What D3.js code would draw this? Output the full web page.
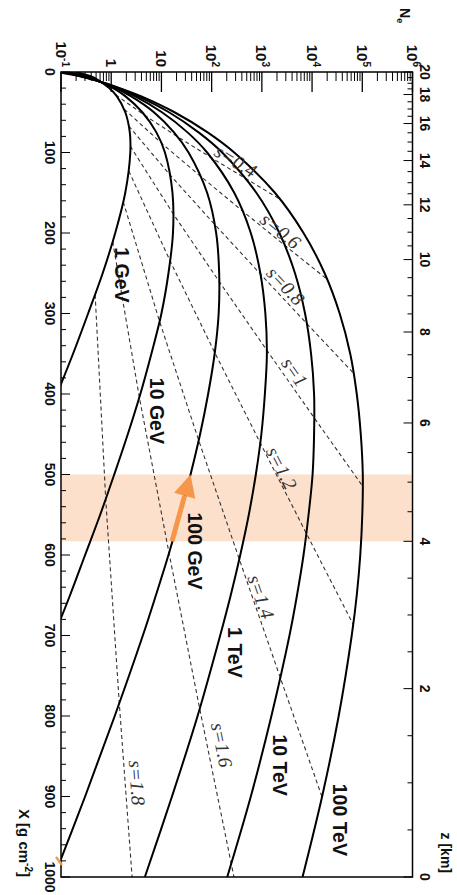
<!DOCTYPE html>
<html><head><meta charset="utf-8">
<script src="https://cdn.jsdelivr.net/npm/d3@7"></script>
<style>html,body{margin:0;padding:0;background:#fff;} svg{display:block}</style>
</head><body>
<script>
// ---- data ----
const depthGrid = [0,5,10,20,30,50,75,100,150,200,250,300,350,400,450,500,550,600,650,700,800,900,1000];
const energyLabels = ["1 GeV","10 GeV","100 GeV","1 TeV","10 TeV","100 TeV"];
const logNe1GeV   = [-0.71,-0.42,-0.26,-0.04,0.11,0.28,0.37,0.38,0.28,0.08,-0.17,-0.46,-0.76,-1.08,null,null,null,null,null,null,null,null,null];
const logNe10GeV  = [-0.85,-0.51,-0.29,0.04,0.28,0.62,0.90,1.07,1.22,1.23,1.14,1.00,0.80,0.58,0.33,0.06,-0.22,-0.52,-0.82,-1.14,null,null,null];
const logNe100GeV = [-0.93,-0.56,-0.31,0.08,0.39,0.85,1.25,1.54,1.91,2.09,2.15,2.14,2.06,1.93,1.77,1.58,1.37,1.14,0.89,0.63,0.07,-0.52,-1.14];
const logNe1TeV   = [-1.00,-0.60,-0.32,0.12,0.47,1.01,1.52,1.91,2.45,2.78,2.97,3.07,3.10,3.06,2.99,2.88,2.74,2.57,2.38,2.17,1.72,1.21,0.67];
const logNe10TeV  = [-1.04,-0.62,-0.33,0.15,0.53,1.15,1.74,2.21,2.89,3.35,3.66,3.86,3.98,4.04,4.04,4.01,3.93,3.83,3.70,3.55,3.19,2.78,2.31];
const logNe100TeV = [-1.08,-0.65,-0.33,0.17,0.59,1.26,1.92,2.45,3.26,3.83,4.25,4.55,4.76,4.89,4.97,5.01,5.00,4.96,4.89,4.79,4.53,4.20,3.81];
const energyLabelDepth = [252,421,595,721,861,929];
const energyLabelLogNe = [0.21,0.91,1.66,2.47,3.36,4.55];

// lines of constant shower age s (points on the six profiles)
const ageValues = ["0.4","0.6","0.8","1","1.2","1.4","1.6","1.8"];
const ageDepth = [
  [28.4,54.4,80.4,106.4,132.4,158.4],
  [46.1,88.4,130.6,172.9,215.1,257.4],
  [67.1,128.5,190.0,251.5,312.9,374.4],
  [92.2,176.7,261.2,345.7,430.3,514.8],
  [123.0,235.7,348.3,461.0,573.7,686.3],
  [161.4,309.3,457.2,605.1,752.9,900.8],
  [210.8,404.0,597.1,790.3,983.4,1176.6],
  [276.7,530.2,783.7,1037.3]
];
const ageLogNe = [
  [0.09,0.68,1.32,1.99,2.68,3.37],
  [0.26,1.00,1.80,2.62,3.45,4.30],
  [0.35,1.18,2.07,2.98,3.90,4.83],
  [0.38,1.24,2.16,3.10,4.05,5.01],
  [0.35,1.18,2.06,2.97,3.89,4.82],
  [0.24,0.96,1.74,2.55,3.37,4.20],
  [0.03,0.56,1.15,1.76,2.39,3.03],
  [-0.32,-0.11,0.16,0.46]
];
const ageLabelDepth = [110.6,197.5,265.8,372.7,492,652,836,883];
const ageLabelLogNe = [2.48,3.37,3.47,3.65,3.39,2.98,2.20,0.51];

// axes
const neTickValues = [0.1,1,10,100,1000,1e4,1e5,1e6];
const neTickExp = ["-1",null,null,"2","3","4","5","6"];
const depthTickLabels = [0,100,200,300,400,500,600,700,800,900,1000];
const altitudeTicks = [20,18,16,14,12,10,8,6,4,2,0];
const altitudeDepth = [0,28,64,110,165,233,323,436,583,766,1000];

// highlighted layer and arrow
const bandDepth = [500,583];
const arrowDepth = [583,500];
const arrowLogNe = [1.21,1.58];
const markDepth = [975,985];

// ---- drawing ----
const W = 457, H = 895;
const L = 61, R = 412.5, T = 72, B = 877;
const svg = d3.select("body").append("svg").attr("width",W).attr("height",H);
svg.append("rect").attr("width",W).attr("height",H).attr("fill","#fff");

const xN = d3.scaleLog().domain([0.1,1e6]).range([L,R]);
const yX = d3.scaleLinear().domain([0,1000]).range([T,B]);
const zToX = d3.scaleLinear().domain(altitudeTicks).range(altitudeDepth);

svg.append("defs").append("clipPath").attr("id","plot")
  .append("rect").attr("x",L).attr("y",T).attr("width",R-L).attr("height",B-T);

// band
svg.append("rect").attr("x",L+1).attr("y",yX(bandDepth[0]))
  .attr("width",R-L-2).attr("height",yX(bandDepth[1])-yX(bandDepth[0]))
  .attr("fill","#fde0cb");

const plot = svg.append("g").attr("clip-path","url(#plot)");

// dashed age lines
const ageLine = d3.line().x(d=>xN(Math.pow(10,d[1]))).y(d=>yX(d[0]));
ageValues.forEach((s,i)=>{
  const pts = ageDepth[i].map((X,j)=>[X, ageLogNe[i][j]]);
  plot.append("path").attr("d",ageLine(pts)).attr("fill","none")
    .attr("stroke","#333").attr("stroke-width",1.1).attr("stroke-dasharray","4,3");
});

// profiles
const series = [logNe1GeV,logNe10GeV,logNe100GeV,logNe1TeV,logNe10TeV,logNe100TeV];
const prof = d3.line().defined(d=>d[1]!=null)
  .x(d=>xN(Math.pow(10,d[1]))).y(d=>yX(d[0])).curve(d3.curveCatmullRom.alpha(0.5));
series.forEach(v=>{
  const pts = depthGrid.map((X,j)=>[X,v[j]]).filter(d=>d[1]!=null);
  plot.append("path").attr("d",prof(pts)).attr("fill","none")
    .attr("stroke","#000").attr("stroke-width",2);
});

// frame
svg.append("rect").attr("x",L).attr("y",T).attr("width",R-L).attr("height",B-T)
  .attr("fill","none").attr("stroke","#000").attr("stroke-width",1.5);

const ax = svg.append("g").attr("stroke","#000").attr("stroke-width",1);
// top log ticks
for(let e=-1;e<6;e++){
  for(let m=2;m<=9;m++){
    const xv = xN(m*Math.pow(10,e));
    ax.append("line").attr("x1",xv).attr("x2",xv).attr("y1",T).attr("y2",T+9);
  }
}
neTickValues.forEach(v=>{
  const xv = xN(v);
  ax.append("line").attr("x1",xv).attr("x2",xv).attr("y1",T).attr("y2",T+20).attr("stroke-width",1.3);
});
// left depth ticks
for(let X=0;X<=1000;X+=20){
  const big = X%100===0;
  ax.append("line").attr("x1",L).attr("x2",L+(big?9:5)).attr("y1",yX(X)).attr("y2",yX(X));
}
// right altitude ticks
for(let z=0;z<=20;z+=0.5){
  const big = Math.abs(z%2)<1e-9;
  const yv = yX(zToX(z));
  ax.append("line").attr("x1",R).attr("x2",R-(big?9:5)).attr("y1",yv).attr("y2",yv);
}

// small orange mark at the left edge near the ground
svg.append("line").attr("x1",L-5).attr("y1",yX(markDepth[0])).attr("x2",L+1).attr("y2",yX(markDepth[1]))
  .attr("stroke","#f29a4a").attr("stroke-width",2.5);

const font = "'Liberation Sans', Arial, sans-serif";
const lab = svg.append("g").attr("font-family",font).attr("font-weight","bold").attr("fill","#111");
// top labels
neTickValues.forEach((v,i)=>{
  const t = lab.append("text").attr("font-size",15)
    .attr("transform",`translate(${xN(v)-5.5},67) rotate(90)`).attr("text-anchor","end");
  if(neTickExp[i]===null){ t.text(v===1?"1":"10"); }
  else { t.append("tspan").text("10"); t.append("tspan").attr("font-size",10).attr("dy",-6).text(neTickExp[i]); }
});
// left labels
depthTickLabels.forEach(v=>{
  lab.append("text").attr("font-size",14).attr("text-anchor","middle")
    .attr("transform",`translate(45,${yX(v)}) rotate(90)`).text(v);
});
// right labels
altitudeTicks.forEach((z,i)=>{
  lab.append("text").attr("font-size",14).attr("text-anchor","middle")
    .attr("transform",`translate(420,${yX(altitudeDepth[i])}) rotate(90)`).text(z);
});
// axis titles
const nt = lab.append("text").attr("font-size",14).attr("transform","translate(400,8) rotate(90)");
nt.append("tspan").text("N");
nt.append("tspan").attr("font-size",9).attr("dy",3).text("e");
const xt = lab.append("text").attr("font-size",15).attr("text-anchor","end")
  .attr("transform",`translate(19,${B}) rotate(90)`);
xt.append("tspan").text("X [g cm");
xt.append("tspan").attr("font-size",10).attr("dy",-6).text("-2");
xt.append("tspan").attr("dy",6).text("]");
lab.append("text").attr("font-size",14).attr("text-anchor","end")
  .attr("transform",`translate(441,${B-4}) rotate(90)`).text("z [km]");

// energy labels
energyLabels.forEach((t,i)=>{
  lab.append("text").attr("font-size",19.5).attr("text-anchor","middle").attr("dominant-baseline","central")
    .attr("transform",`translate(${xN(Math.pow(10,energyLabelLogNe[i]))},${yX(energyLabelDepth[i])}) rotate(90)`)
    .text(t);
});

// age labels, rotated along their line
ageValues.forEach((s,i)=>{
  const D = ageDepth[i], V = ageLogNe[i];
  let k = 0; while(k < D.length-2 && D[k+1] < ageLabelDepth[i]) k++;
  const dx = xN(Math.pow(10,V[k+1]))-xN(Math.pow(10,V[k]));
  const dy = yX(D[k+1])-yX(D[k]);
  const ang = Math.atan2(dy,dx)*180/Math.PI;
  svg.append("text").attr("font-family","'Liberation Serif', 'Times New Roman', serif")
    .attr("font-style","italic").attr("font-size",19.5).attr("fill","#333")
    .attr("text-anchor","middle").attr("dominant-baseline","central")
    .attr("transform",`translate(${xN(Math.pow(10,ageLabelLogNe[i]))},${yX(ageLabelDepth[i])}) rotate(${ang})`)
    .text("s="+s);
});

// arrow
const ax0 = xN(Math.pow(10,arrowLogNe[0])), ay0 = yX(arrowDepth[0]);
const ax1 = xN(Math.pow(10,arrowLogNe[1])), ay1 = yX(arrowDepth[1]);
const ang = Math.atan2(ay1-ay0, ax1-ax0);
const headLen = 22, headW = 11;
const bx = ax1 - headLen*Math.cos(ang), by = ay1 - headLen*Math.sin(ang);
svg.append("line").attr("x1",ax0).attr("y1",ay0).attr("x2",bx).attr("y2",by)
  .attr("stroke","#f5964a").attr("stroke-width",5);
const px = -Math.sin(ang), py = Math.cos(ang);
svg.append("path").attr("d",`M${ax1},${ay1}L${bx+px*headW},${by+py*headW}L${bx-px*headW},${by-py*headW}Z`)
  .attr("fill","#f5964a");
</script>
</body></html>
